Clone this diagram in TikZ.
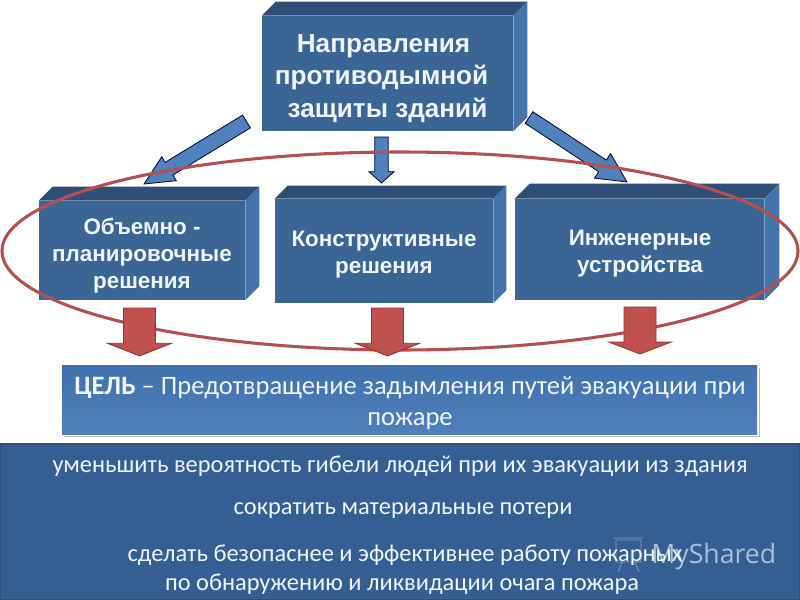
\documentclass[tikz,border=0pt]{standalone}
\usepackage{fontspec}
\setmainfont{Liberation Sans}
\newfontfamily\goalfont{Carlito}
\newfontfamily\listfont{Carlito}
\newfontfamily\markfont{Open Sans}
\usetikzlibrary{calc,shapes.geometric}
\definecolor{frontc}{HTML}{3B6594}
\definecolor{topc}{HTML}{2F4F78}
\definecolor{sidec}{HTML}{4474AB}
\definecolor{txt}{HTML}{EEF3F8}
\definecolor{ringc}{HTML}{B5504E}
\definecolor{bluearrow}{HTML}{4F81BD}
\definecolor{redarrow}{HTML}{C0504D}
\definecolor{goaltop}{HTML}{3F71AC}
\definecolor{goalbot}{HTML}{5080BC}
\definecolor{listc}{HTML}{355F93}
\newcommand{\solidbox}[2]{% node, depth in px
  \fill[topc] (#1.north west) -- ++(#2,-#2) -| ($(#1.north east)+(#2,-#2)$) -- (#1.north east) -- cycle;
  \fill[sidec] (#1.north east) -- ++(#2,-#2) -- ($(#1.south east)+(#2,-#2)$) -- (#1.south east) -- cycle;
}
% tail, tip, shaft half width, head half width, head length (all in pt)
\newcommand{\blockarrow}[6]{%
  \coordinate (neck) at ($(#2)!#5!(#1)$);
  \draw[#6] ($(#1)!#3!90:(#2)$) -- ($(neck)!#3!90:(#2)$) -- ($(neck)!#4!90:(#2)$) -- (#2)
    -- ($(neck)!#4!-90:(#2)$) -- ($(neck)!#3!-90:(#2)$) -- ($(#1)!#3!-90:(#2)$) -- cycle;
}
\tikzset{
  frontbox/.style={fill=frontc,inner sep=0pt},
  boxtext/.style={text=txt,inner sep=0pt,align=center,font=\bfseries\fontsize{16.8}{20.25}\selectfont},
  bluestyle/.style={fill=bluearrow,draw=black!75!blue,line width=0.6pt,line join=miter},
  redstyle/.style={fill=redarrow,draw=redarrow!70!black,line width=0.6pt,line join=miter},
  listtext/.style={text=txt,inner sep=0pt,align=center,font=\listfont\fontsize{18.3}{22}\selectfont},
}
\begin{document}
\begin{tikzpicture}[x=0.75pt,y=-0.75pt]
\useasboundingbox (0,0) rectangle (800,600);
\fill[white] (0,0) rectangle (800,600);
% boxes
\node[frontbox,minimum width=251*0.75pt,minimum height=115*0.75pt] (top) at (387.5,73.5) {};
\solidbox{top}{14}
\node[boxtext,font=\bfseries\fontsize{19.6}{24.4}\selectfont] (toptext) at (381.5,78.5)
  {\hbox{Направления\kern-3pt}\\\hbox{противодымной}\\\hbox{\kern9pt защиты зданий}};
\node[frontbox,minimum width=206*0.75pt,minimum height=99*0.75pt] (plan) at (142,250.5) {};
\solidbox{plan}{14}
\node[boxtext] (plantext) at (142,255.5) {Объемно -\\планировочные\\решения};
\node[frontbox,minimum width=218*0.75pt,minimum height=104*0.75pt] (constr) at (384,251) {};
\solidbox{constr}{13}
\node[boxtext] (constrtext) at (384,255) {Конструктивные\\решения};
\node[frontbox,minimum width=249*0.75pt,minimum height=101*0.75pt] (eng) at (639.5,249.5) {};
\solidbox{eng}{15}
\node[boxtext] (engtext) at (640,254) {Инженерные\\устройства};
% blue arrows
\coordinate (t1) at (246.5,121.5);
\coordinate (h1) at (144,184);
\coordinate (t2) at (381.5,137);
\coordinate (h2) at (381.5,183);
\coordinate (t3) at (529,117.5);
\coordinate (h3) at (627,182);
\blockarrow{t1}{h1}{5.6pt}{10.5pt}{22pt}{bluestyle}
\blockarrow{t2}{h2}{5pt}{9.5pt}{8.5pt}{bluestyle}
\blockarrow{t3}{h3}{5.2pt}{11pt}{22pt}{bluestyle}
% ring
\node[ellipse,draw=ringc,line width=2.3pt,inner sep=0pt,minimum width=796*0.75pt,minimum height=198*0.75pt] (ring) at (400,251) {};
% goal box
\fill[black!28] (64,368) rectangle (760,437);
\node[fill=white,minimum width=699*0.75pt,minimum height=73*0.75pt,inner sep=0pt] (goalframe) at (409.5,399.5) {};
\node[top color=goaltop,bottom color=goalbot,minimum width=695*0.75pt,minimum height=69*0.75pt,inner sep=0pt] (goal) at (409.5,399.5) {};
\node[text=txt,inner sep=0pt,align=center,font=\goalfont\fontsize{19.9}{23.25}\selectfont] (goaltext) at (410,403)
  {\textbf{ЦЕЛЬ} – Предотвращение задымления путей эвакуации при\\пожаре};
% red arrows
\coordinate (r1) at (139.5,308);
\coordinate (q1) at (139.5,356);
\coordinate (r2) at (387.5,308);
\coordinate (q2) at (387.5,356);
\coordinate (r3) at (640,307);
\coordinate (q3) at (640,354);
\blockarrow{r1}{q1}{12pt}{24pt}{9.5pt}{redstyle}
\blockarrow{r2}{q2}{12pt}{24pt}{9.5pt}{redstyle}
\blockarrow{r3}{q3}{12pt}{23.5pt}{9pt}{redstyle}
% list box
\node[fill=listc,draw=topc,line width=1pt,minimum width=800*0.75pt,minimum height=156*0.75pt,inner sep=0pt] (listbox) at (400,522) {};
\node[listtext] (l1) at (400,466) {уменьшить вероятность гибели людей при их эвакуации из здания};
\node[listtext] (l2) at (403,511) {сократить материальные потери};
\node[listtext] (l3) at (402,569.5) {\hspace*{4.5pt}сделать безопаснее и эффективнее работу пожарных\\по обнаружению и ликвидации очага пожара};
% watermark
\node[inner sep=0pt,anchor=west,text=white,opacity=0.6,font=\markfont\fontsize{20}{24}\selectfont] (mark) at (651,557) {MyShared};
\draw[white,opacity=0.4,line width=0.6pt] (613,538) -- (643,538) (616,540) rectangle (641,562) (622,562) -- (618,572) (635,562) -- (639,572);
\end{tikzpicture}
\end{document}
